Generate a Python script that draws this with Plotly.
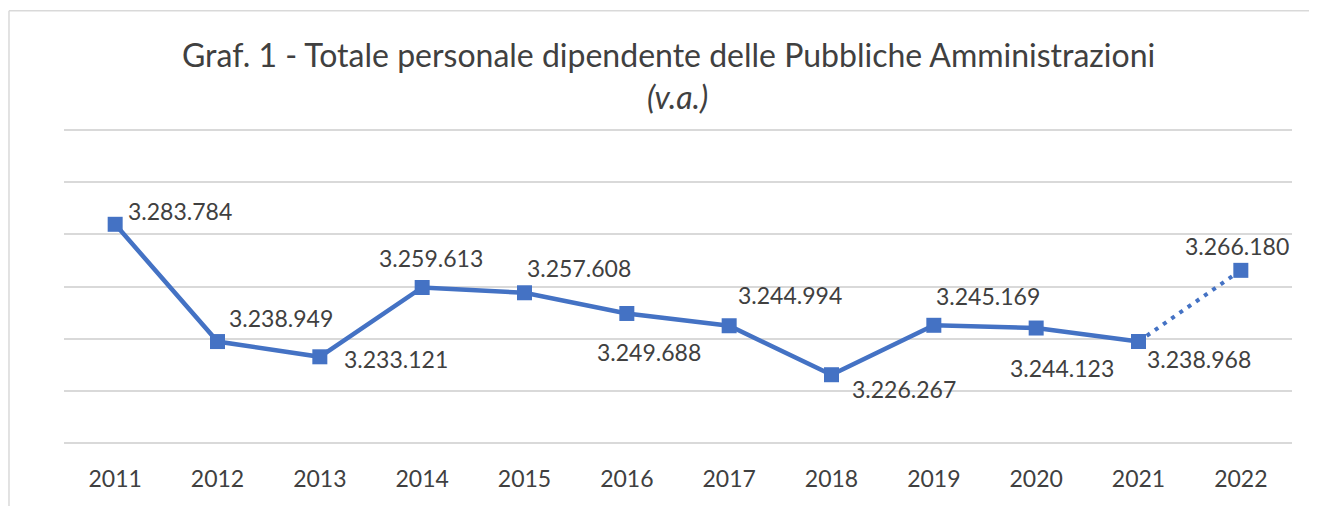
import plotly.graph_objects as go

years = [2011, 2012, 2013, 2014, 2015, 2016, 2017, 2018, 2019, 2020, 2021, 2022]
values = [3283784, 3238949, 3233121, 3259613, 3257608, 3249688, 3244994, 3226267, 3245169, 3244123, 3238968, 3266180]
labels = ["3.283.784", "3.238.949", "3.233.121", "3.259.613", "3.257.608", "3.249.688",
          "3.244.994", "3.226.267", "3.245.169", "3.244.123", "3.238.968", "3.266.180"]
tick_text = [str(y) for y in years]

# label placement offsets (pixels) relative to each point
label_dx = [65, 63, 76, 9, 54, 22, 61, 72, 54, 26, 60, -4]
label_dy = [13, 24, -2, 30, 25, -39, 31, -14, 29, -40, -17, 24]

blue = "#4472C4"
txt = "#404040"
font = "Lato, 'Open Sans', sans-serif"

fig = go.Figure()
# solid part 2011-2021
fig.add_trace(go.Scatter(
    x=years[:11], y=values[:11], mode="lines+markers",
    line=dict(color=blue, width=4.5),
    marker=dict(symbol="square", size=15, color=blue),
    hoverinfo="skip", showlegend=False))
# dotted part 2021-2022
fig.add_trace(go.Scatter(
    x=years[10:], y=values[10:], mode="lines",
    line=dict(color=blue, width=4, dash="4px,6px"),
    hoverinfo="skip", showlegend=False))
fig.add_trace(go.Scatter(
    x=years[10:], y=values[10:], mode="markers",
    marker=dict(symbol="square", size=15, color=blue),
    hoverinfo="skip", showlegend=False))

for yr, v, lab, dx, dy in zip(years, values, labels, label_dx, label_dy):
    fig.add_annotation(x=yr, y=v, text=lab, showarrow=False, xshift=dx, yshift=dy,
                       xanchor="center", yanchor="middle",
                       font=dict(size=23, color=txt, family=font))

fig.add_annotation(xref="paper", yref="paper", x=0.492, y=1.233, yanchor="middle",
                   text="Graf. 1 - Totale personale dipendente delle Pubbliche Amministrazioni",
                   showarrow=False, font=dict(size=32, color=txt, family=font))
fig.add_annotation(xref="paper", yref="paper", x=0.4992, y=1.099, yanchor="middle",
                   text="<i>(v.a.)</i>",
                   showarrow=False, font=dict(size=32, color=txt, family=font))

# chart border (top and left edges visible)
fig.add_shape(type="line", xref="paper", yref="paper", x0=-0.0448, x1=1.03, y0=1.370, y1=1.370,
              line=dict(color="#D9D9D9", width=1.5))
fig.add_shape(type="line", xref="paper", yref="paper", x0=-0.0448, x1=-0.0448, y0=1.370, y1=-0.3,
              line=dict(color="#D9D9D9", width=1.5))

fig.update_layout(
    width=1309, height=498,
    margin=dict(l=56, r=25, t=120, b=61),
    paper_bgcolor="white", plot_bgcolor="white",
    xaxis=dict(range=[2010.5, 2022.5], tickvals=years, ticktext=tick_text,
               showgrid=False, showline=False, zeroline=False, ticks="",
               ticklabelstandoff=18,
               tickfont=dict(size=23, color=txt, family=font), fixedrange=True),
    yaxis=dict(range=[3199400, 3320600], dtick=20000, tick0=3200000, showgrid=True,
               gridcolor="#D9D9D9", gridwidth=1.5, showticklabels=False, zeroline=False,
               showline=False, fixedrange=True),
)
fig.write_html("out.html", config={"displayModeBar": False})
